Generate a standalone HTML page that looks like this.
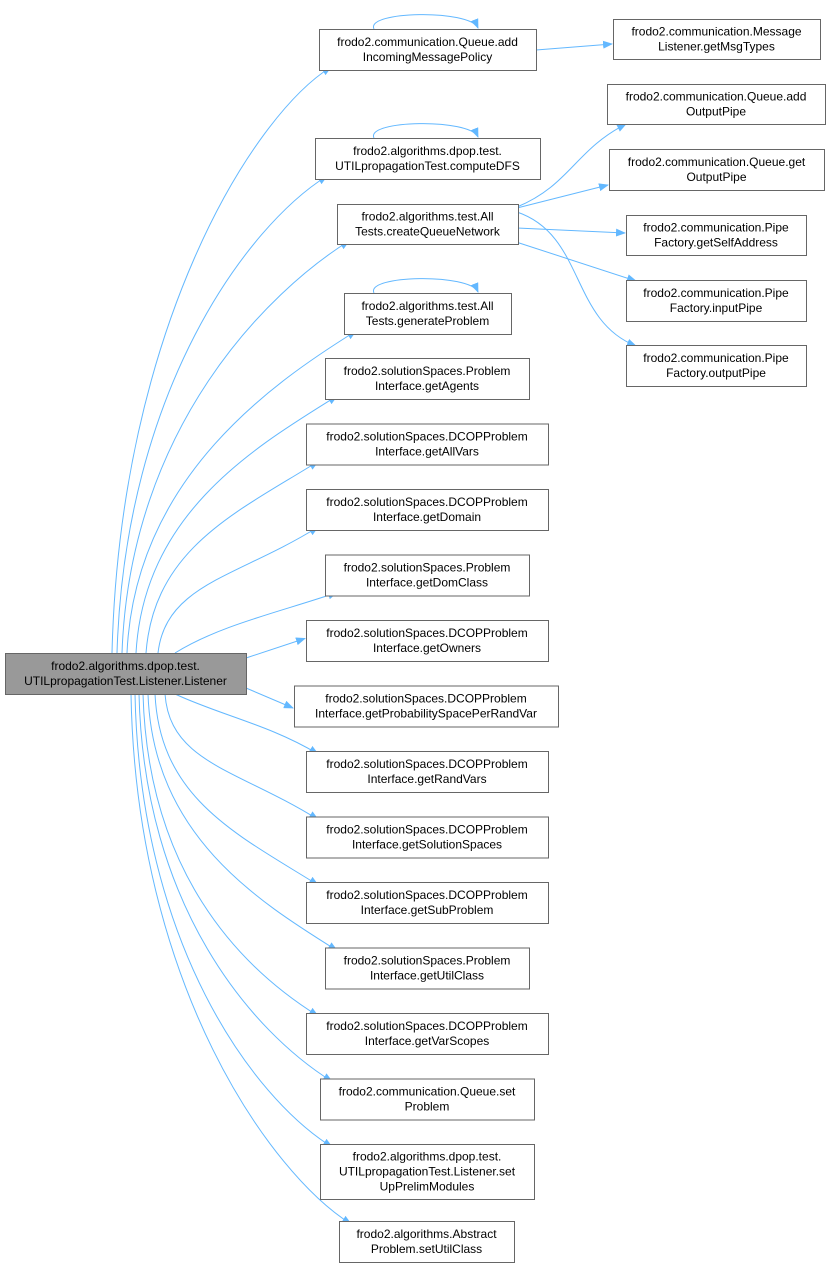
<!DOCTYPE html>
<html><head><meta charset="utf-8"><style>
html,body{margin:0;padding:0;background:#fff;}
svg{display:block;}
text{font-family:"Liberation Sans",sans-serif;font-size:12px;fill:#000;}
</style></head><body>
<svg id="g" width="827" height="1267" viewBox="0 0 827 1267" xmlns="http://www.w3.org/2000/svg">
<defs><marker id="a" markerWidth="10" markerHeight="8" refX="9" refY="4" orient="auto" markerUnits="userSpaceOnUse"><path d="M0,0 L10,4 L0,8 z" fill="#63b8ff"/></marker></defs>
<g id="edges" fill="none" stroke="#63b8ff" stroke-width="1"></g>
<g id="nodes"></g>
</svg>
<script>
var N=[
 [319,29,536,70,["frodo2.communication.Queue.add","IncomingMessagePolicy"],1],
 [315,138,540,179,["frodo2.algorithms.dpop.test.","UTILpropagationTest.computeDFS"],1],
 [337,204,518,244,["frodo2.algorithms.test.All","Tests.createQueueNetwork"],0],
 [344,293,511,334,["frodo2.algorithms.test.All","Tests.generateProblem"],1]
];
var mid=[
 [325,529,["frodo2.solutionSpaces.Problem","Interface.getAgents"]],
 [306,548,["frodo2.solutionSpaces.DCOPProblem","Interface.getAllVars"]],
 [306,548,["frodo2.solutionSpaces.DCOPProblem","Interface.getDomain"]],
 [325,529,["frodo2.solutionSpaces.Problem","Interface.getDomClass"]],
 [306,548,["frodo2.solutionSpaces.DCOPProblem","Interface.getOwners"]],
 [294,558,["frodo2.solutionSpaces.DCOPProblem","Interface.getProbabilitySpacePerRandVar"]],
 [306,548,["frodo2.solutionSpaces.DCOPProblem","Interface.getRandVars"]],
 [306,548,["frodo2.solutionSpaces.DCOPProblem","Interface.getSolutionSpaces"]],
 [306,548,["frodo2.solutionSpaces.DCOPProblem","Interface.getSubProblem"]],
 [325,529,["frodo2.solutionSpaces.Problem","Interface.getUtilClass"]],
 [306,548,["frodo2.solutionSpaces.DCOPProblem","Interface.getVarScopes"]],
 [320,534,["frodo2.communication.Queue.set","Problem"]],
 [320,534,["frodo2.algorithms.dpop.test.","UTILpropagationTest.Listener.set","UpPrelimModules"]],
 [339,514,["frodo2.algorithms.Abstract","Problem.setUtilClass"]]
];
mid.forEach(function(m,k){var t=358+k*65.5;var h=41;if(k==12)h=55;if(k==13)t=1221;N.push([m[0],t,m[1],t+h,m[2],0]);});
var R=[
 [613,19,820,59,["frodo2.communication.Message","Listener.getMsgTypes"]],
 [607,84,825,124,["frodo2.communication.Queue.add","OutputPipe"]],
 [609,149,824,190,["frodo2.communication.Queue.get","OutputPipe"]],
 [626,215,806,255,["frodo2.communication.Pipe","Factory.getSelfAddress"]],
 [626,280,806,321,["frodo2.communication.Pipe","Factory.inputPipe"]],
 [626,345,806,386,["frodo2.communication.Pipe","Factory.outputPipe"]]
];
var ns="http://www.w3.org/2000/svg",E=document.getElementById("edges"),G=document.getElementById("nodes");
function path(d){var p=document.createElementNS(ns,"path");p.setAttribute("d",d);p.setAttribute("marker-end","url(#a)");E.appendChild(p);}
function box(x1,y1,x2,y2,lines,fill){var r=document.createElementNS(ns,"rect");r.setAttribute("x",x1+.5);r.setAttribute("y",y1+.5);r.setAttribute("width",x2-x1);r.setAttribute("height",y2-y1);r.setAttribute("fill",fill||"#fff");r.setAttribute("stroke","#666");G.appendChild(r);
 var cx=(x1+x2)/2,cy=(y1+y2)/2,n=lines.length;lines.forEach(function(s,i){var t=document.createElementNS(ns,"text");t.setAttribute("x",cx);t.setAttribute("y",cy+(i-(n-1)/2)*15+4);t.setAttribute("text-anchor","middle");t.textContent=s;G.appendChild(t);});}
box(5,653,246,694,["frodo2.algorithms.dpop.test.","UTILpropagationTest.Listener.Listener"],"#999");
var upSx=[112,117,122,127,136,146,158,175];
var dnSx=[175,165,155,148,143,139,135,131,128];
N.forEach(function(n,i){var L=n[0],T=n[1],B=n[3],M=(T+B)/2;
 if(B<640){var sx=upSx[i];var ty=B-3,tx=L+12;
  if(i==7){path("M"+sx+",653 C220,625 280,612 "+tx+","+ty);return;}
  path("M"+sx+",653 C"+(sx+8)+","+(653-(653-ty)*0.55)+" "+(tx-80)+","+(ty+50)+" "+tx+","+ty);}
 else if(T>700){var j=i-10;var sx=dnSx[j]||128;var ty=T+3,tx=L+12;
  if(j==0){path("M"+sx+",694 C220,715 270,725 "+tx+","+ty);return;}
  path("M"+sx+",694 C"+(sx+5)+","+(694+(ty-694)*0.55)+" "+(tx-80)+","+(ty-50)+" "+tx+","+ty);}
 else {var sy=(M<673)?658:688;path("M246,"+sy+" L"+(L-1)+","+(M-(M<673?2:-2)));}
});
[0,1,3].forEach(function(k){var n=N[k];path("M374,"+n[1]+" C365,"+(n[1]-18)+" 470,"+(n[1]-20)+" 478,"+(n[1]-1));});
path("M536,50 L612,44");
path("M517,207 C570,185 575,150 626,124");
path("M517,208 L608,185");
path("M517,228 L625,233");
path("M510,240 L636,281");
path("M517,212 C585,235 570,320 636,346");
R.forEach(function(r){box(r[0],r[1],r[2],r[3],r[4]);});
N.forEach(function(n){box(n[0],n[1],n[2],n[3],n[4]);});
</script>
</body></html>
